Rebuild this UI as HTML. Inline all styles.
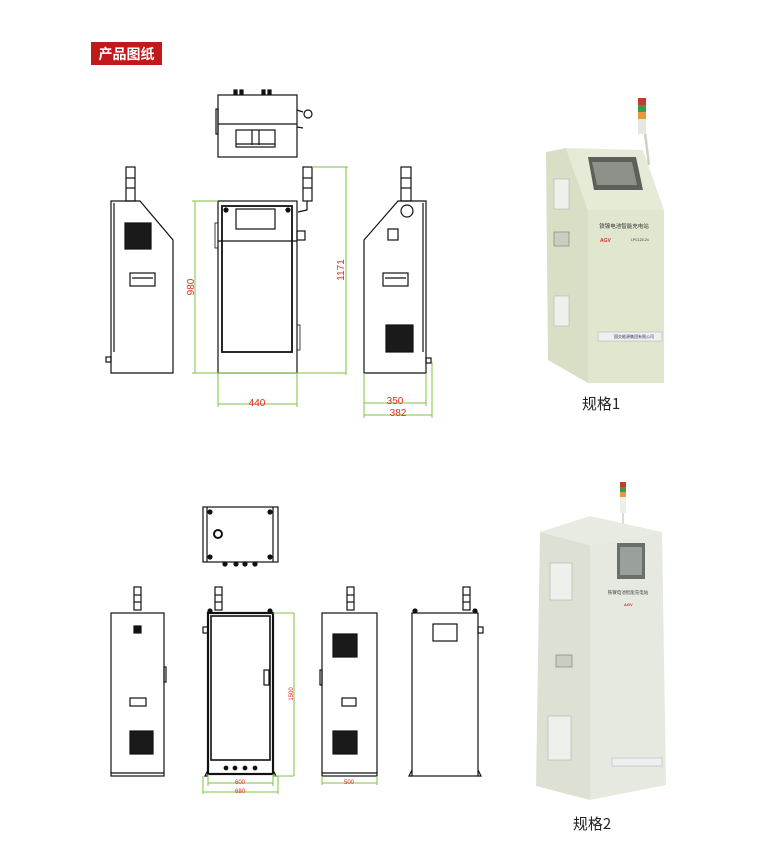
<!DOCTYPE html>
<html><head><meta charset="utf-8"><style>
html,body{margin:0;padding:0;background:#fff;}
svg{display:block;}
</style></head><body>
<svg width="769" height="855" viewBox="0 0 769 855" xmlns="http://www.w3.org/2000/svg" font-family="Liberation Sans, 'Noto Sans CJK SC', sans-serif">
<rect width="769" height="855" fill="#fff"/>
<!-- header -->
<rect x="91" y="42" width="71" height="23" fill="#c1191b"/>
<text x="126.5" y="59" fill="#fff" font-size="14" font-weight="bold" text-anchor="middle" font-family="'Noto Sans CJK SC', sans-serif">产品图纸</text>

<g fill="none" stroke="#111" stroke-width="1.2">
<!-- TOP SET -->
<rect x="218" y="95" width="79" height="62"/>
<line x1="218" y1="124" x2="297" y2="124"/>
<rect x="216" y="109" width="2" height="25"/>
<rect x="236" y="130" width="39" height="17"/>
<line x1="252" y1="130" x2="252" y2="145"/><line x1="259" y1="130" x2="259" y2="145"/>
<line x1="236" y1="144" x2="275" y2="144"/>
<circle cx="308" cy="114" r="4"/>
<line x1="297" y1="110" x2="303" y2="112"/><line x1="297" y1="127" x2="303" y2="128"/>
<rect x="234" y="90" width="3" height="4" fill="#111"/><rect x="240" y="90" width="3" height="4" fill="#111"/>
<rect x="262" y="90" width="3" height="4" fill="#111"/><rect x="268" y="90" width="3" height="4" fill="#111"/>
<polygon points="111,201 140,201 173,240 173,373 111,373"/>
<line x1="114" y1="203" x2="114" y2="352"/>
<rect x="126" y="167" width="9" height="34"/>
<line x1="126" y1="178" x2="135" y2="178"/><line x1="126" y1="188" x2="135" y2="188"/>
<rect x="125" y="223" width="26" height="26" fill="#1a1a1a"/>
<rect x="130" y="273" width="25" height="13"/>
<line x1="132" y1="278" x2="153" y2="278"/>
<rect x="106" y="357" width="5" height="5"/>
<rect x="218" y="201" width="79" height="172"/>
<rect x="222" y="206" width="70" height="146" stroke-width="1.8"/>
<line x1="218" y1="241" x2="297" y2="241"/>
<rect x="236" y="209" width="39" height="20"/>
<circle cx="226" cy="210" r="2" fill="#111"/><circle cx="288" cy="210" r="2" fill="#111"/>
<rect x="215" y="223" width="3" height="25" stroke-width="0.8"/>
<rect x="297" y="325" width="3" height="25" stroke-width="0.8"/>
<rect x="303" y="167" width="9" height="34"/>
<line x1="303" y1="178" x2="312" y2="178"/><line x1="303" y1="188" x2="312" y2="188"/>
<path d="M307,201 L307,210 L298,212"/>
<rect x="297" y="231" width="8" height="9"/>
<polygon points="364,240 398,201 426,201 426,373 364,373"/>
<line x1="423" y1="203" x2="423" y2="352"/>
<rect x="401" y="167" width="10" height="34"/>
<line x1="401" y1="178" x2="411" y2="178"/><line x1="401" y1="188" x2="411" y2="188"/>
<circle cx="407" cy="211" r="6"/>
<rect x="388" y="229" width="10" height="11"/>
<rect x="383" y="273" width="25" height="13"/>
<line x1="385" y1="278" x2="406" y2="278"/>
<rect x="386" y="325" width="27" height="27" fill="#1a1a1a"/>
<rect x="426" y="358" width="5" height="5"/>

<!-- BOTTOM SET -->
<rect x="203" y="507" width="75" height="55"/>
<line x1="207" y1="507" x2="207" y2="562"/><line x1="273" y1="507" x2="273" y2="562"/>
<circle cx="218" cy="534" r="4" stroke-width="2"/>
<circle cx="210" cy="512" r="2" fill="#111"/><circle cx="270" cy="512" r="2" fill="#111"/>
<circle cx="210" cy="557" r="2" fill="#111"/><circle cx="270" cy="557" r="2" fill="#111"/>
<circle cx="225" cy="564" r="2" fill="#111"/><circle cx="236" cy="564" r="2" fill="#111"/>
<circle cx="245" cy="564" r="2" fill="#111"/><circle cx="255" cy="564" r="2" fill="#111"/>
<rect x="111" y="613" width="53" height="163"/>
<line x1="111" y1="773" x2="164" y2="773"/>
<rect x="134" y="587" width="7" height="23"/>
<line x1="134" y1="595" x2="141" y2="595"/><line x1="134" y1="602" x2="141" y2="602"/>
<rect x="134" y="626" width="7" height="7" fill="#111"/>
<rect x="130" y="698" width="16" height="8"/>
<rect x="130" y="731" width="23" height="23" fill="#1a1a1a"/>
<rect x="164" y="667" width="2" height="15"/>
<rect x="208" y="613" width="65" height="161" stroke-width="2.2"/>
<rect x="211" y="616" width="59" height="144" stroke-width="1.6"/>
<rect x="215" y="587" width="7" height="23"/>
<line x1="215" y1="595" x2="222" y2="595"/><line x1="215" y1="602" x2="222" y2="602"/>
<circle cx="210" cy="611" r="2" fill="#111"/><circle cx="270" cy="611" r="2" fill="#111"/>
<rect x="264" y="670" width="5" height="15"/>
<rect x="203" y="627" width="5" height="6"/>
<circle cx="226" cy="768" r="1.8" fill="#111"/><circle cx="235" cy="768" r="1.8" fill="#111"/><circle cx="245" cy="768" r="1.8" fill="#111"/><circle cx="255" cy="768" r="1.8" fill="#111"/>
<rect x="322" y="613" width="55" height="163"/>
<line x1="322" y1="773" x2="377" y2="773"/>
<rect x="347" y="587" width="7" height="23"/>
<line x1="347" y1="595" x2="354" y2="595"/><line x1="347" y1="602" x2="354" y2="602"/>
<rect x="333" y="634" width="24" height="23" fill="#1a1a1a"/>
<rect x="333" y="731" width="24" height="23" fill="#1a1a1a"/>
<rect x="342" y="698" width="14" height="8"/>
<rect x="320" y="670" width="2" height="15"/>
<rect x="412" y="613" width="66" height="163"/>
<rect x="433" y="624" width="24" height="17"/>
<rect x="463" y="587" width="7" height="23"/>
<line x1="463" y1="595" x2="470" y2="595"/><line x1="463" y1="602" x2="470" y2="602"/>
<circle cx="415" cy="611" r="2" fill="#111"/><circle cx="475" cy="611" r="2" fill="#111"/>
<rect x="478" y="627" width="5" height="6"/>
<path d="M412,770 L409,776 L412,776 M478,770 L481,776 L478,776"/>
<path d="M208,770 L205,776 L208,776 M273,770 L276,776 L273,776"/>
</g>

<g stroke="#7cc242" stroke-width="1" fill="none">
<line x1="195" y1="201" x2="195" y2="373"/>
<line x1="192" y1="201" x2="218" y2="201"/>
<line x1="192" y1="373" x2="346" y2="373"/>
<line x1="346" y1="167" x2="346" y2="375"/>
<line x1="312" y1="167" x2="348" y2="167"/>
<line x1="218" y1="373" x2="218" y2="407"/><line x1="297" y1="373" x2="297" y2="407"/>
<line x1="218" y1="404" x2="297" y2="404"/>
<line x1="364" y1="373" x2="364" y2="418"/><line x1="426" y1="373" x2="426" y2="406"/>
<line x1="432" y1="362" x2="432" y2="418"/>
<line x1="364" y1="403" x2="426" y2="403"/>
<line x1="364" y1="415" x2="432" y2="415"/>
<line x1="273" y1="613" x2="294" y2="613"/><line x1="273" y1="776" x2="294" y2="776"/>
<line x1="294" y1="613" x2="294" y2="776"/>
<line x1="208" y1="774" x2="208" y2="786"/><line x1="273" y1="774" x2="273" y2="786"/>
<line x1="203" y1="776" x2="203" y2="794"/><line x1="278" y1="776" x2="278" y2="794"/>
<line x1="208" y1="783" x2="273" y2="783"/>
<line x1="203" y1="792" x2="278" y2="792"/>
<line x1="322" y1="776" x2="322" y2="785"/><line x1="377" y1="776" x2="377" y2="785"/>
<line x1="322" y1="783" x2="377" y2="783"/>
</g>
<g fill="#e8281e" font-size="10" font-family="Liberation Sans, sans-serif">
<text x="257" y="406" text-anchor="middle">440</text>
<text x="395" y="404" text-anchor="middle">350</text>
<text x="398" y="416" text-anchor="middle">382</text>
<text transform="translate(194,287) rotate(-90)" text-anchor="middle">980</text>
<text transform="translate(344,270) rotate(-90)" text-anchor="middle">1171</text>
<g font-size="6">
<text transform="translate(293,694) rotate(-90)" text-anchor="middle">1500</text>
<text x="240" y="784" text-anchor="middle">600</text>
<text x="240" y="793" text-anchor="middle">680</text>
<text x="349" y="784" text-anchor="middle">500</text>
</g>
</g>

<!-- photo 1 -->
<g>
<line x1="645" y1="133" x2="649" y2="165" stroke="#ccd4bf" stroke-width="2.5"/>
<rect x="638" y="98" width="8" height="7" fill="#c43a2e"/>
<rect x="638" y="105" width="8" height="7" fill="#3c9a48"/>
<rect x="638" y="112" width="8" height="7" fill="#e89a3a"/>
<rect x="638" y="119" width="8" height="15" fill="#e6e8e0"/>
<polygon points="546,152 566,148 588,210 588,383 548,360" fill="#d8dfc5"/>
<polygon points="566,148 643,150 664,210 588,210" fill="#e6ebd7"/>
<rect x="588" y="210" width="76" height="173" fill="#e1e7cf"/>
<polygon points="588,157 636,157 643,190 594,190" fill="#5c5f5a"/>
<polygon points="592,162 632,162 637,185 597,185" fill="#8c918a"/>
<rect x="554" y="179" width="15" height="30" fill="#eef0ea" stroke="#aab" stroke-width="0.5"/>
<rect x="554" y="232" width="15" height="14" fill="#c9cfc0" stroke="#777" stroke-width="0.6"/>
<rect x="554" y="296" width="15" height="30" fill="#eef0ea" stroke="#aab" stroke-width="0.5"/>
<text x="624" y="228" font-size="5.5" fill="#333" text-anchor="middle" font-family="'Noto Sans CJK SC', sans-serif">铁镍电池智能充电站</text>
<text x="600" y="242" font-size="5" fill="#c33" font-weight="bold">AGV</text>
<text x="631" y="241" font-size="3.5" fill="#333">LPC120-24</text>
<rect x="598" y="332" width="64" height="9" fill="#eef0f0" stroke="#99a" stroke-width="0.4"/>
<text x="614" y="338" font-size="4" fill="#335">国交能源集团有限公司</text>
</g>
<text x="601" y="409" font-size="15" fill="#222" text-anchor="middle" font-family="'Noto Sans CJK SC', sans-serif">规格1</text>

<!-- photo 2 -->
<g>
<line x1="623" y1="512" x2="623" y2="532" stroke="#d8dcd4" stroke-width="2"/>
<rect x="620" y="482" width="6" height="5" fill="#c43a2e"/>
<rect x="620" y="487" width="6" height="5" fill="#3c9a48"/>
<rect x="620" y="492" width="6" height="5" fill="#e89a3a"/>
<rect x="620" y="497" width="6" height="16" fill="#eceee8"/>
<polygon points="540,532 590,516 662,532 590,545" fill="#e8ebe2"/>
<polygon points="540,532 590,545 590,800 536,786" fill="#dde1d4"/>
<polygon points="590,545 662,532 666,785 590,800" fill="#e6e9df"/>
<rect x="617" y="543" width="28" height="36" fill="#6a6f6b"/>
<rect x="620" y="547" width="22" height="28" fill="#9aa09b"/>
<rect x="550" y="563" width="22" height="37" fill="#eef0ec" stroke="#9aa" stroke-width="0.5"/>
<rect x="548" y="716" width="23" height="44" fill="#eef0ec" stroke="#9aa" stroke-width="0.5"/>
<rect x="556" y="655" width="16" height="12" fill="#c9cfc0" stroke="#777" stroke-width="0.6"/>
<text x="628" y="594" font-size="4.5" fill="#444" text-anchor="middle" font-family="'Noto Sans CJK SC', sans-serif">铁镍电池智能充电站</text>
<text x="624" y="606" font-size="4" fill="#c33" font-weight="bold">AGV</text>
<rect x="612" y="758" width="50" height="8" fill="#eef0f0" stroke="#99a" stroke-width="0.4"/>
</g>
<text x="592" y="829" font-size="15" fill="#222" text-anchor="middle" font-family="'Noto Sans CJK SC', sans-serif">规格2</text>
</svg>
</body></html>
